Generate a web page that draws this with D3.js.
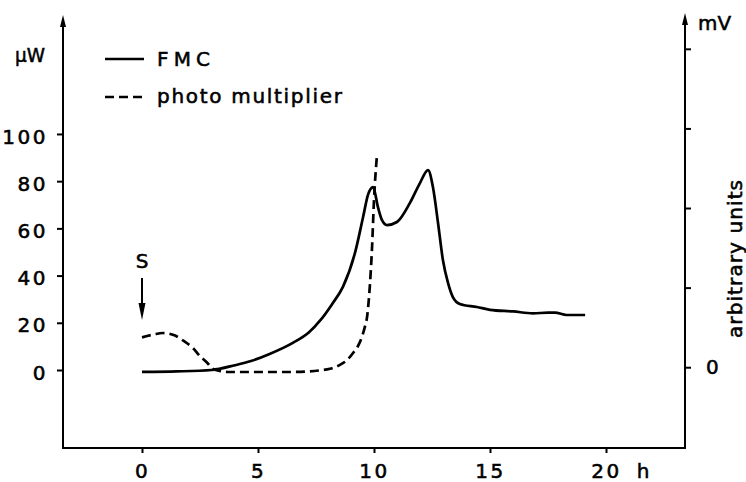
<!DOCTYPE html>
<html><head><meta charset="utf-8">
<script src="https://cdn.jsdelivr.net/npm/d3@7"></script>
<style>
html,body{margin:0;padding:0;background:#fff;}
svg{display:block;}
text{font-family:"DejaVu Sans",sans-serif;fill:#000;stroke:#000;stroke-width:0.55px;}
</style></head>
<body>
<svg id="chart" width="746" height="482"></svg>
<script>
// ---- data ----
const xTicks = [0, 5, 10, 15, 20];
const leftTicks = [0, 20, 40, 60, 80, 100];
const rightTicks = [0, 1, 2, 3, 4];
const rightTickLabels = ["0", "", "", "", ""];
const fmcHours = [0, 1.5, 3.0, 4.0, 4.7, 5.5, 6.5, 7.2, 7.7, 8.2, 8.66, 9.18, 9.53, 9.74, 9.96, 10.17, 10.34, 10.56, 10.99, 11.55, 11.98, 12.33, 12.54, 12.76, 12.97, 13.19, 13.4, 13.7, 14.44, 15.0, 16.0, 16.85, 17.5, 17.8, 18.3, 19.1];
const fmcValues = [-0.8, -0.6, 0, 2.0, 3.8, 6.8, 11.5, 16, 21.2, 28, 35.2, 49.6, 64.8, 74.2, 77.5, 69, 63.6, 61.4, 62.7, 70.8, 79.2, 84.7, 77.5, 62.3, 46.6, 36.9, 30.9, 28, 26.7, 25.5, 24.8, 24, 24.3, 24.3, 23.3, 23.3];
const pmHours = [0, 0.5, 0.9, 1.4, 1.8, 2.2, 2.5, 2.8, 3.06, 3.4, 3.7, 5, 6.5, 7.67, 8.1, 8.53, 8.84, 9.1, 9.3, 9.48, 9.6, 9.7, 9.83, 9.91, 10.0, 10.13];
const pmValues = [0.375, 0.41, 0.43, 0.4, 0.33, 0.24, 0.14, 0.06, -0.02, -0.05, -0.06, -0.06, -0.06, -0.04, -0.02, 0.03, 0.09, 0.18, 0.26, 0.38, 0.5, 0.63, 1.06, 1.47, 2.1, 2.67];
const legendLabels = ["FMC", "photo multiplier"];

// ---- layout ----
const svg = d3.select("#chart");
const left = 63, right = 685, bottom = 448, topL = 15, topR = 13;
const x = d3.scaleLinear().domain([-3.405, 23.405]).range([left, right]);
const y = d3.scaleLinear().domain([-33.05, 150.4]).range([bottom, topL]);
const yR = d3.scaleLinear().domain([-1.015, 4.45]).range([bottom, topR]);

const fs = 20;

// axes frame lines
svg.append("line").attr("x1", left).attr("x2", right).attr("y1", bottom).attr("y2", bottom).attr("stroke", "#000").attr("stroke-width", 2);
svg.append("line").attr("x1", left).attr("x2", left).attr("y1", bottom + 1).attr("y2", topL + 8).attr("stroke", "#000").attr("stroke-width", 2);
svg.append("line").attr("x1", right).attr("x2", right).attr("y1", bottom + 1).attr("y2", topR + 8).attr("stroke", "#000").attr("stroke-width", 2);
// arrow heads
svg.append("path").attr("d", `M${left - 3},${topL + 12} L${left},${topL} L${left + 3},${topL + 12} Z`).attr("fill", "#000");
svg.append("path").attr("d", `M${right - 3},${topR + 12} L${right},${topR} L${right + 3},${topR + 12} Z`).attr("fill", "#000");

// bottom axis ticks
const gx = svg.append("g").attr("transform", `translate(0,${bottom})`)
  .call(d3.axisBottom(x).tickValues(xTicks).tickSize(5).tickPadding(11).tickFormat(d3.format("d")));
gx.select(".domain").remove();
gx.selectAll("line").attr("stroke-width", 2);
gx.selectAll("text").attr("font-size", fs).attr("font-family", "DejaVu Sans").attr("letter-spacing", 2.5);
svg.append("text").attr("x", 643).attr("y", 478).attr("font-size", fs).attr("text-anchor", "middle").text("h");

// left axis
const gy = svg.append("g").attr("transform", `translate(${left},0)`)
  .call(d3.axisLeft(y).tickValues(leftTicks).tickSize(6).tickPadding(9).tickFormat(d3.format("d")));
gy.select(".domain").remove();
gy.selectAll("line").attr("stroke-width", 2);
gy.selectAll("text").attr("font-size", fs).attr("font-family", "DejaVu Sans").attr("letter-spacing", 2.5).attr("dy", "0.46em");
svg.append("text").attr("x", 15).attr("y", 62).attr("font-size", fs).attr("textLength", 30).attr("lengthAdjust", "spacingAndGlyphs").text("µW");

// right axis
const gr = svg.append("g").attr("transform", `translate(${right},0)`)
  .call(d3.axisRight(yR).tickValues(rightTicks).tickSize(6).tickPadding(15).tickFormat((d, i) => rightTickLabels[i]));
gr.select(".domain").remove();
gr.selectAll("line").attr("stroke-width", 2);
gr.selectAll("text").attr("font-size", fs).attr("font-family", "DejaVu Sans");
svg.append("text").attr("x", 698).attr("y", 30).attr("font-size", fs).attr("textLength", 33).attr("lengthAdjust", "spacingAndGlyphs").text("mV");
svg.append("text").attr("transform", "translate(735,259) rotate(-90)").attr("font-size", fs)
  .attr("text-anchor", "middle").attr("dominant-baseline", "central")
  .attr("textLength", 158).attr("lengthAdjust", "spacing").text("arbitrary units");

// curves
const fmcData = fmcHours.map((h, i) => [h, fmcValues[i]]);
const pmData = pmHours.map((h, i) => [h, pmValues[i]]);
const lineL = d3.line().x(d => x(d[0])).y(d => y(d[1])).curve(d3.curveMonotoneX);
const lineR = d3.line().x(d => x(d[0])).y(d => yR(d[1])).curve(d3.curveMonotoneX);
svg.append("path").attr("d", lineL(fmcData)).attr("fill", "none").attr("stroke", "#000").attr("stroke-width", 2.7).attr("stroke-linejoin", "round");
svg.append("path").attr("d", lineR(pmData)).attr("fill", "none").attr("stroke", "#000").attr("stroke-width", 2.7).attr("stroke-dasharray", "9,5");

// S marker
svg.append("text").attr("x", x(0)).attr("y", 268).attr("font-size", fs).attr("text-anchor", "middle").text("S");
svg.append("line").attr("x1", x(0)).attr("x2", x(0)).attr("y1", 278).attr("y2", 306).attr("stroke", "#000").attr("stroke-width", 2);
svg.append("path").attr("d", `M${x(0) - 3.5},${303} L${x(0)},${320} L${x(0) + 3.5},${303} Z`).attr("fill", "#000");

// legend
svg.append("line").attr("x1", 105).attr("x2", 144).attr("y1", 59).attr("y2", 59).attr("stroke", "#000").attr("stroke-width", 2.7);
svg.append("line").attr("x1", 105).attr("x2", 144).attr("y1", 97).attr("y2", 97).attr("stroke", "#000").attr("stroke-width", 2.7).attr("stroke-dasharray", "9,5");
svg.append("text").attr("x", 157).attr("y", 66).attr("font-size", fs).attr("textLength", 53).attr("lengthAdjust", "spacing").text(legendLabels[0]);
svg.append("text").attr("x", 157).attr("y", 103).attr("font-size", fs).attr("textLength", 185).attr("lengthAdjust", "spacing").text(legendLabels[1]);
</script>
</body></html>
